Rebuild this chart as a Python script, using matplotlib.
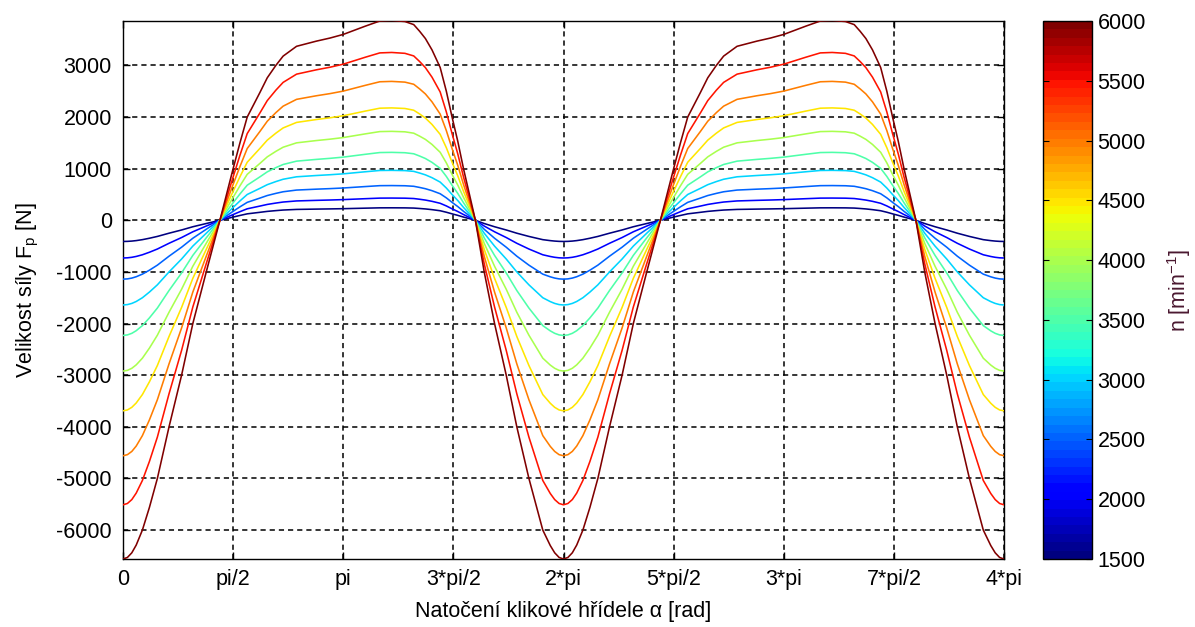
import numpy as np
import matplotlib
matplotlib.use("Agg")
import matplotlib.pyplot as plt
from matplotlib.colors import Normalize
from matplotlib.cm import ScalarMappable

# engine speeds [min^-1]
speeds = [1500, 2000, 2500, 3000, 3500, 4000, 4500, 5000, 5500, 6000]
# force at alpha = 0 read for each speed curve [N]
force_at_zero = [-410, -730, -1140, -1640, -2230, -2920, -3690, -4560, -5510, -6560]

# one period (0..2*pi) of the 6000 min^-1 curve, alpha in units of pi
alpha_pi = [0.000, 0.020, 0.040, 0.060, 0.088, 0.120, 0.156, 0.209, 0.266, 0.317,
            0.378, 0.440, 0.500, 0.531, 0.564, 0.621, 0.655, 0.694, 0.727, 0.788,
            0.878, 0.940, 1.000, 1.050, 1.100, 1.166, 1.220, 1.280, 1.320, 1.347,
            1.373, 1.403, 1.440, 1.468, 1.494, 1.520, 1.546, 1.573, 1.600, 1.640,
            1.687, 1.740, 1.788, 1.843, 1.906, 1.940, 1.960, 1.980, 2.000]
force_6000 = [-6560, -6530, -6440, -6290, -6000, -5560, -5000, -4000, -3000, -2000,
              -1000, 0, 1000, 1500, 2000, 2470, 2760, 3000, 3180, 3370,
              3470, 3530, 3600, 3680, 3760, 3860, 3870, 3850, 3790, 3660,
              3520, 3300, 2960, 2500, 2000, 1530, 1000, 500, 0, -1000,
              -2000, -3000, -4000, -5000, -6000, -6300, -6440, -6530, -6560]

xtick_labels = ["0", "pi/2", "pi", "3*pi/2", "2*pi", "5*pi/2", "3*pi", "7*pi/2", "4*pi"]

plt.rcParams["font.family"] = ["Liberation Sans", "DejaVu Sans"]
plt.rcParams["mathtext.fontset"] = "custom"
plt.rcParams["mathtext.rm"] = "Liberation Sans"
plt.rcParams["mathtext.it"] = "Liberation Sans"
plt.rcParams["axes.unicode_minus"] = False

FS = 15.5

fig = plt.figure(figsize=(11.95, 6.27), dpi=100)
ax = fig.add_axes([123 / 1195, 68 / 627, (1004 - 123) / 1195, (606 - 68) / 627])
cax = fig.add_axes([1043 / 1195, 68 / 627, 49 / 1195, (606 - 68) / 627])

cmap = plt.get_cmap("jet", 64)
norm = Normalize(vmin=speeds[0], vmax=speeds[-1])

a1 = np.array(alpha_pi)
x = np.concatenate([a1, a1[1:] + 2.0]) * np.pi
ref = np.array(force_6000, dtype=float)
ref2 = np.concatenate([ref, ref[1:]])
for n, f0 in zip(speeds, force_at_zero):
    y = ref2 * (f0 / force_at_zero[-1])
    ax.plot(x, y, color=cmap(norm(n)), lw=1.15, zorder=3)

ax.set_xlim(0, 4 * np.pi)
ax.set_ylim(min(force_at_zero), 3860)
ax.set_xticks(np.arange(9) * np.pi / 2)
ax.set_xticklabels(xtick_labels)
ax.set_yticks(np.arange(-6000, 3001, 1000))
ax.grid(True, color="black", linestyle=(0, (3.4, 2.6)), linewidth=1.1)
ax.tick_params(direction="in", top=True, right=True, length=5, width=1.0,
               labelsize=FS, pad=7)
ax.tick_params(axis="y", pad=8)
for s in ax.spines.values():
    s.set_linewidth(1.0)

ax.set_xlabel("Natočení klikové hřídele α [rad]", fontsize=FS, labelpad=8)
ax.set_ylabel("Velikost síly F$_\\mathregular{p}$ [N]", fontsize=FS, labelpad=11)

sm = ScalarMappable(norm=norm, cmap=cmap)
cb = fig.colorbar(sm, cax=cax)
cb.set_ticks(np.arange(1500, 6001, 500))
cb.ax.tick_params(direction="in", left=True, right=True, length=4, labelsize=FS, pad=4)
cb.outline.set_linewidth(1.0)
cb.set_label("n [min$^\\mathregular{-1}$]", fontsize=FS, color="#4a1830", labelpad=14)

fig.savefig("out.png", dpi=100)
